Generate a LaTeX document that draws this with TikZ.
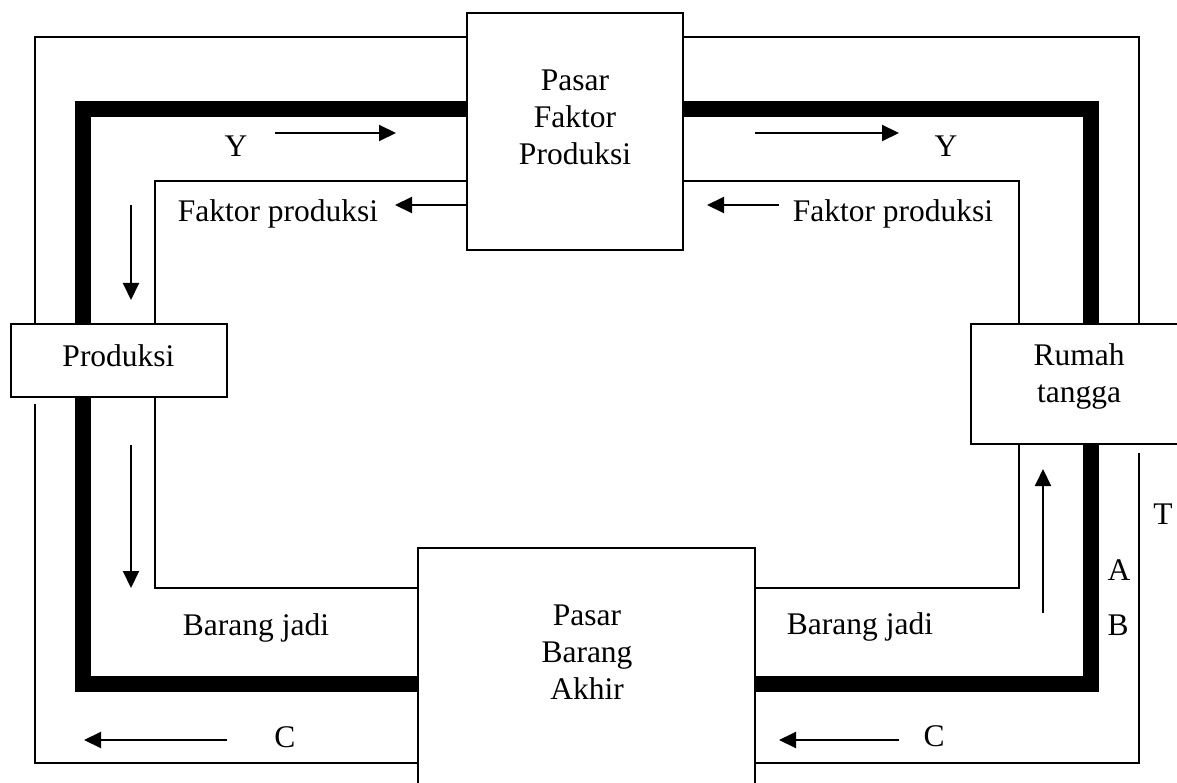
\documentclass[tikz,border=0pt]{standalone}
\usepackage{fontspec}
\setmainfont{Liberation Serif}
\usetikzlibrary{arrows.meta}
\begin{document}
\begin{tikzpicture}[x=1pt,y=-1pt,
  thinflow/.style={line width=2pt},
  thickflow/.style={line width=16pt},
  box/.style={draw,line width=2.2pt,fill=white,inner sep=0pt},
  flowarrow/.style={line width=2pt,-{Triangle[length=17pt,width=16pt]}},
  lbl/.style={font=\fontsize{31.5}{37}\selectfont,inner sep=0pt,anchor=base,align=center}]
\clip (0,0) rectangle (1177,783);
\fill[white] (0,0) rectangle (1177,783);

% outer (thin) loop, broken below the two side boxes
\draw[thinflow] (35,324) -- (35,37) -- (1139,37) -- (1139,324);
\draw[thinflow] (35,404) -- (35,763) -- (1139,763) -- (1139,453);
% middle (thick) loop
\draw[thickflow] (83,109) rectangle (1091,684);
% inner (thin) loop
\draw[thinflow] (155,181) rectangle (1019,588);

% the four boxes
\node[box,minimum width=216pt,minimum height=237pt] (pfp) at (575,131.5) {};
\node[box,minimum width=216pt,minimum height=73pt] (prod) at (119,360.5) {};
\node[box,minimum width=209pt,minimum height=120pt] (rt) at (1075.5,384) {};
\node[box,minimum width=337pt,minimum height=252pt] (pba) at (586.5,674) {};

% box texts (base anchor sits on the last line)
\node[lbl] (tpfp) at (575,165) {Pasar\\Faktor\\Produksi};
\node[lbl] (tprod) at (118.5,366) {Produksi};
\node[lbl] (trt) at (1079,402) {Rumah\\tangga};
\node[lbl] (tpba) at (587,699) {Pasar\\Barang\\Akhir};

% flow direction arrows
\draw[flowarrow] (275,133) -- (396,133);
\draw[flowarrow] (pfp.west |- 0,205) -- (395,205);
\draw[flowarrow] (755,133) -- (899,133);
\draw[flowarrow] (779,205) -- (707,205);
\draw[flowarrow] (131,205) -- (131,300);
\draw[flowarrow] (131,445) -- (131,588);
\draw[flowarrow] (1043,613) -- (1043,469);
\draw[flowarrow] (227,740) -- (84,740);
\draw[flowarrow] (899,740) -- (779,740);

% flow labels
\node[lbl] (y1) at (236,157) {Y};
\node[lbl] (y2) at (946,157) {Y};
\node[lbl] (fp1) at (278,222) {Faktor produksi};
\node[lbl] (fp2) at (893,222) {Faktor produksi};
\node[lbl] (bj1) at (256,635) {Barang jadi};
\node[lbl] (bj2) at (860,634) {Barang jadi};
\node[lbl] (c1) at (285,747) {C};
\node[lbl] (c2) at (934,746) {C};
\node[lbl] (t) at (1163,524) {T};
\node[lbl] (a) at (1119,580) {A};
\node[lbl] (b) at (1118,635) {B};
\end{tikzpicture}
\end{document}
